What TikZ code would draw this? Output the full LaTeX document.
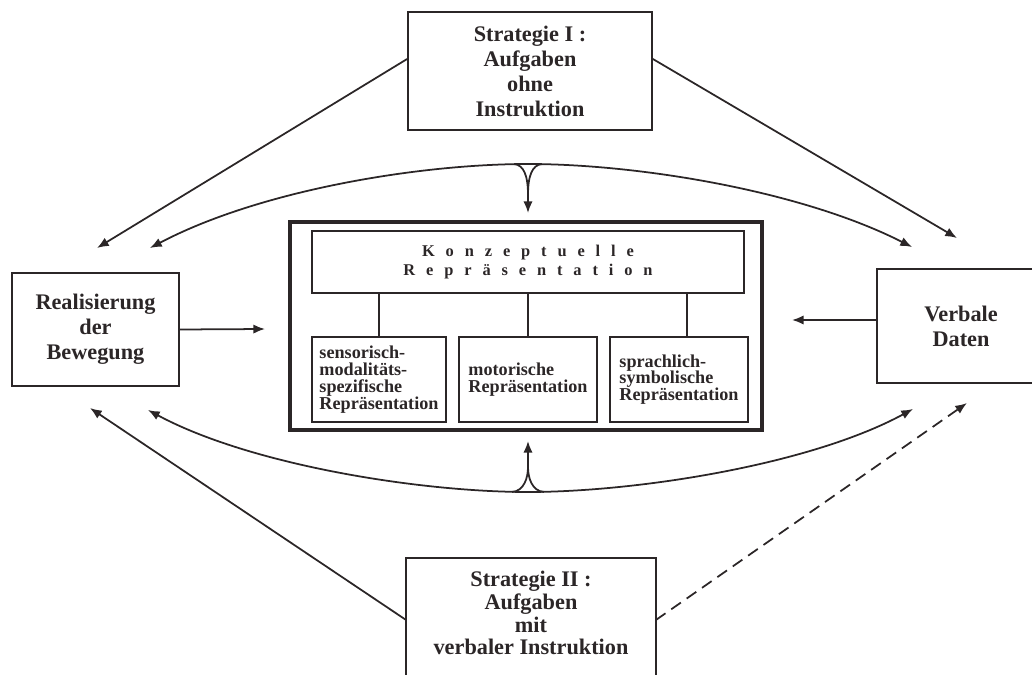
\documentclass[tikz,border=0pt]{standalone}
\usepackage{fontspec}
\setmainfont{Liberation Serif}
\usetikzlibrary{arrows.meta}
\definecolor{ink}{HTML}{2B2627}
\newcommand{\lsp}{\hspace{9.3pt}}

\begin{document}
\begin{tikzpicture}[x=0.03cm, y=-0.03cm, line width=1.5pt, color=ink,
	box/.style={draw, align=center, inner sep=0pt, font=\bfseries\fontsize{19}{21.3}\selectfont},
	rep/.style={draw, align=left, inner sep=0pt, minimum height=2.55cm, font=\bfseries\fontsize{15.5}{14.3}\selectfont},
	pfeil/.style={-{Latex[length=10pt,width=8pt]}},
	]
	\useasboundingbox (0,0) rectangle (1032,675);

	% boxes
	\node[box, minimum width=7.32cm, minimum height=3.54cm] (strat1) at (530,71) {Strategie I :\\Aufgaben\\ohne\\Instruktion};
	\node[box, minimum width=5.01cm, minimum height=3.39cm] (real) at (95.5,329.5) {Realisierung\\der\\Bewegung};
	\node[box, minimum width=5.04cm, minimum height=3.42cm] (verbal) at (961,326) {Verbale\\Daten};
	\node[box, draw=none, font=\bfseries\fontsize{19}{19.5}\selectfont, minimum width=7.44cm, minimum height=3.24cm] (strat2) at (531,613) {Strategie II :\\Aufgaben\\mit\\verbaler Instruktion};
	\draw ([yshift=-1cm]strat2.south west) -- (strat2.north west) -- (strat2.north east) -- ([yshift=-1cm]strat2.south east);

	\node[draw, line width=2.6pt, minimum width=14.16cm, minimum height=6.24cm] (outer) at (526,326) {};
	\node[draw, align=center, minimum width=12.96cm, minimum height=1.86cm, inner sep=0pt, font=\bfseries\fontsize{14}{16.2}\selectfont] (konz) at (528,262)
		{K\lsp o\lsp n\lsp z\lsp e\lsp p\lsp t\lsp u\lsp e\lsp l\lsp l\lsp e\\R\lsp e\lsp p\lsp r\lsp ä\lsp s\lsp e\lsp n\lsp t\lsp a\lsp t\lsp i\lsp o\lsp n};
	\node[rep, minimum width=4.02cm] (rep1) at (379,379.5) {sensorisch-\\modalitäts-\\spezifische\\Repräsentation};
	\node[rep, minimum width=4.14cm] (rep2) at (528,379.5) {motorische\\Repräsentation};
	\node[rep, minimum width=4.14cm] (rep3) at (679,379.5) {sprachlich-\\symbolische\\Repräsentation};

	\draw (rep1.north |- konz.south) -- (rep1.north);
	\draw (rep2.north |- konz.south) -- (rep2.north);
	\draw ([xshift=0.24cm]rep3.north |- konz.south) -- ([xshift=0.24cm]rep3.north);

	% free ends
	\coordinate (aL) at (97,248);
	\coordinate (aR) at (957,238);
	\coordinate (bL) at (150,248);
	\coordinate (bR) at (912,247);
	\coordinate (cL) at (148,410);
	\coordinate (cR) at (913,409);
	\coordinate (dL) at (90,408);
	\coordinate (dR) at (967,403);
	\coordinate (topT) at (528,164);
	\coordinate (cuspT) at (528,195);
	\coordinate (inT) at (528,213);
	\coordinate (botB) at (528,492);
	\coordinate (cuspB) at (528,467);
	\coordinate (inB) at (528,441);
	\coordinate (inL) at (265,329);
	\coordinate (inR) at (792,320);

	% arrows
	\draw[pfeil] ([yshift=0.36cm]strat1.west) -- (aL);
	\draw[pfeil] ([yshift=0.36cm]strat1.east) -- (aR);
	\draw[pfeil] (topT) .. controls (420,164) and (260,190) .. (bL);
	\draw[pfeil] (topT) .. controls (636,164) and (800,190) .. (bR);
	\draw (514,164) .. controls (524,165) and (528,176) .. (cuspT);
	\draw (542,164) .. controls (532,165) and (528,176) .. (cuspT);
	\draw[pfeil] (cuspT) -- (inT);

	\draw[pfeil] (real.east) -- (inL);
	\draw[pfeil] ([yshift=0.18cm]verbal.west) -- (inR);

	\draw[pfeil] (botB) .. controls (420,492) and (250,465) .. (cL);
	\draw[pfeil] (botB) .. controls (636,492) and (810,465) .. (cR);
	\draw (512,492) .. controls (524,491) and (528,478) .. (cuspB);
	\draw (544,492) .. controls (532,491) and (528,478) .. (cuspB);
	\draw[pfeil] (cuspB) -- (inB);

	\draw[pfeil] ([yshift=-0.21cm]strat2.west) -- (dL);
	\draw[pfeil, dashed, dash pattern=on 10pt off 6pt] ([yshift=-0.21cm]strat2.east) -- (dR);
\end{tikzpicture}
\end{document}
